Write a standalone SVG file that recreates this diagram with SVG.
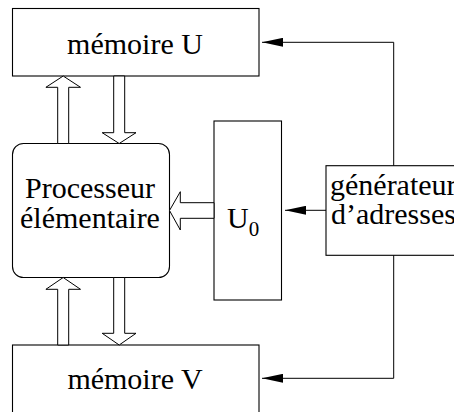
<svg xmlns="http://www.w3.org/2000/svg" width="454" height="412" viewBox="0 0 454 412">
<defs>
<style>
.box{fill:#fff;stroke:#000;stroke-width:1.1}
.bus{fill:#fff;stroke:#000;stroke-width:1}
.wire{fill:none;stroke:#000;stroke-width:1}
.t{font-family:"Liberation Serif","Times New Roman",serif;font-size:30px;fill:#000}
</style>
<marker id="ah" markerWidth="21" markerHeight="9" refX="21" refY="4.5" orient="auto" markerUnits="userSpaceOnUse">
<path d="M0,0 L21,4.5 L0,9 Z" fill="#000"/>
</marker>
</defs>
<rect width="454" height="412" fill="#fff"/>
<g id="memU">
<rect class="box" x="12.5" y="8.5" width="246.5" height="67.5"/>
<text class="t" x="135" y="54" text-anchor="middle">mémoire U</text>
</g>
<g id="proc">
<rect class="box" x="12.5" y="143.5" width="157" height="134" rx="11" ry="11"/>
<text class="t" x="90" y="198" text-anchor="middle">Processeur</text>
<text class="t" x="90" y="228" text-anchor="middle">élémentaire</text>
</g>
<g id="u0">
<rect class="box" x="214" y="121" width="67.5" height="179"/>
<text class="t" x="227" y="228">U<tspan font-size="21" dy="8">0</tspan></text>
</g>
<g id="gen">
<rect class="box" x="326" y="165.7" width="140" height="89.6"/>
<text class="t" x="330" y="195">générateur</text>
<text class="t" x="331" y="224">d’adresses</text>
</g>
<g id="memV">
<rect class="box" x="12.5" y="345" width="246.5" height="80"/>
<text class="t" x="135" y="389" text-anchor="middle">mémoire V</text>
</g>
<g id="connectors">
<polygon class="bus" points="63.2,76 80.5,87.3 68.7,87.3 68.7,143.5 57.7,143.5 57.7,87.3 45.9,87.3"/>
<polygon class="bus" points="113.7,76 124.7,76 124.7,132.7 136,132.7 119.2,143.5 102.2,132.7 113.7,132.7"/>
<polygon class="bus" points="63.2,277.5 80.5,289.3 68.7,289.3 68.7,345 57.7,345 57.7,289.3 45.9,289.3"/>
<polygon class="bus" points="113.7,277.5 124.7,277.5 124.7,333.3 136,333.3 119.2,345 102.2,333.3 113.7,333.3"/>
<polygon class="bus" points="169.5,210.5 180.3,191.7 180.3,202.7 214,202.7 214,218.3 180.3,218.3 180.3,230"/>
<path class="wire" d="M393.7,165.7 V42.3 H262" marker-end="url(#ah)"/>
<path class="wire" d="M393.7,255.3 V378.3 H262" marker-end="url(#ah)"/>
<path class="wire" d="M326,210.3 H285" marker-end="url(#ah)"/>
</g>
</svg>
